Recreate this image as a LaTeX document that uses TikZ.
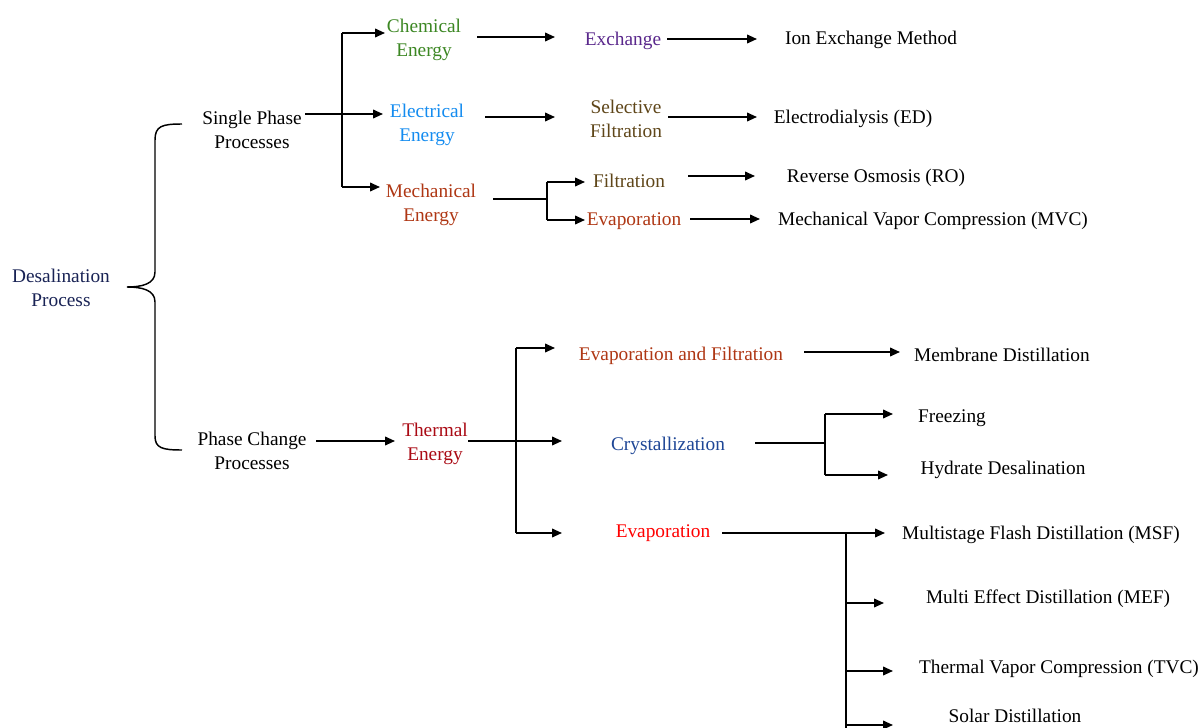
\documentclass[tikz,border=0pt]{standalone}
\usepackage{fontspec}
\setmainfont{Liberation Serif}
\usetikzlibrary{arrows.meta}

\definecolor{desalblue}{RGB}{25,35,85}
\definecolor{chemgreen}{RGB}{60,135,35}
\definecolor{elecblue}{RGB}{20,140,240}
\definecolor{mechbrown}{RGB}{175,55,20}
\definecolor{exchpurple}{RGB}{90,40,140}
\definecolor{filtbrown}{RGB}{95,70,25}
\definecolor{thermred}{RGB}{170,10,20}
\definecolor{crystblue}{RGB}{30,70,150}
\definecolor{evapred}{RGB}{255,0,0}

\tikzset{
    txt/.style={inner sep=0pt, align=center, yshift=-1.8pt,
        font=\fontsize{14.5}{18}\selectfont},
    link/.style={line width=1.3pt},
    arr/.style={link, -{Triangle[length=7.5pt,width=6.5pt]}}
}

\begin{document}
\begin{tikzpicture}[x=0.75pt,y=-0.75pt]

        \clip (0,0) rectangle (1204,728);
        \fill[white] (0,0) rectangle (1204,728);

        % texts
        \node[txt, desalblue] (desal) at (61,285) {Desalination\\Process};
        \node[txt] (single) at (252,127) {Single Phase\\Processes};
        \node[txt] (change) at (252,448) {Phase Change\\Processes};
        \node[txt, chemgreen] (chem) at (424,37) {Chemical\\Energy};
        \node[txt, elecblue] (elec) at (427,122) {Electrical\\Energy};
        \node[txt, mechbrown] (mech) at (431,202) {Mechanical\\Energy};
        \node[txt, exchpurple] (exch) at (623,38) {Exchange};
        \node[txt, filtbrown] (selfilt) at (626,116) {Selective\\Filtration};
        \node[txt, filtbrown] (filt) at (629,178) {Filtration};
        \node[txt, mechbrown] (mevap) at (634,219) {Evaporation};
        \node[txt] (ion) at (871,37) {Ion Exchange Method};
        \node[txt] (ed) at (853,116) {Electrodialysis (ED)};
        \node[txt] (ro) at (876,175) {Reverse Osmosis (RO)};
        \node[txt] (mvc) at (933,218) {Mechanical Vapor Compression (MVC)};
        \node[txt, thermred] (therm) at (435,441) {Thermal\\Energy};
        \node[txt, mechbrown] (evfilt) at (681,353) {Evaporation and Filtration};
        \node[txt, crystblue] (cryst) at (668,443) {Crystallization};
        \node[txt, evapred] (tevap) at (663,531) {Evaporation};
        \node[txt] (md) at (1002,352) {Membrane Distillation};
        \node[txt] (freeze) at (952,416) {Freezing};
        \node[txt] (hydrate) at (1003,467) {Hydrate Desalination};
        \node[txt] (msf) at (1041,532) {Multistage Flash Distillation (MSF)};
        \node[txt] (mef) at (1048,596) {Multi Effect Distillation (MEF)};
        \node[txt] (tvc) at (1059,666) {Thermal Vapor Compression (TVC)};
        \node[txt] (solar) at (1015,713) {Solar Distillation};

        % line ends and junctions
        \foreach \n/\x/\y in {
            spO/305/114, spJ/342/114, chemI/385/33, elecI/383/114, mechI/380/187,
            chemO/477/37, exchI/555/37, exchO/667/39, ionI/757/39,
            elecO/485/117, selI/555/117, selO/668/117, edI/757/117,
            mechO/493/199, mJ/547/199, filtI/585/182, mevI/585/220,
            filtO/688/176, roI/755/176, mevO/690/219, mvcI/760/219,
            pcO/316/441, thI/395/441,
            thO/468/441, tJ/516/441, efI/555/348, crI/562/441, evI/562/533,
            efO/804/352, mdI/900/352,
            crO/755/443, cJ/825/443, frI/893/414, hyI/888/475,
            evO/722/533, eJ/846/533, msfI/885/533, mefI/884/603,
            tvcI/893/671, solI/893/725, eEnd/846/740}
        \coordinate (\n) at (\x,\y);

        % brace
        \draw[line width=1.1pt] (182,124) .. controls (162,124) and (155,126) .. (155,140)
            -- (155,272) .. controls (155,284) and (142,287) .. (127,287)
            .. controls (142,287) and (155,290) .. (155,302)
            -- (155,436) .. controls (155,448) and (162,450) .. (182,450);

        % single phase
        \draw[link] (spO) -- (spJ);
        \draw[link] (spJ|-chemI) -- (spJ|-mechI);
        \foreach \t in {chemI,elecI,mechI}
            \draw[arr] (spJ|-\t) -- (\t);
        \draw[arr] (chemO) -- (exchI);
        \draw[arr] (exchO) -- (ionI);
        \draw[arr] (elecO) -- (selI);
        \draw[arr] (selO) -- (edI);
        \draw[link] (mechO) -- (mJ);
        \draw[link] (mJ|-filtI) -- (mJ|-mevI);
        \foreach \t in {filtI,mevI}
            \draw[arr] (mJ|-\t) -- (\t);
        \draw[arr] (filtO) -- (roI);
        \draw[arr] (mevO) -- (mvcI);

        % phase change
        \draw[arr] (pcO) -- (thI);
        \draw[link] (thO) -- (tJ);
        \draw[link] (tJ|-efI) -- (tJ|-evI);
        \foreach \t in {efI,crI,evI}
            \draw[arr] (tJ|-\t) -- (\t);
        \draw[arr] (efO) -- (mdI);
        \draw[link] (crO) -- (cJ);
        \draw[link] (cJ|-frI) -- (cJ|-hyI);
        \foreach \t in {frI,hyI}
            \draw[arr] (cJ|-\t) -- (\t);
        \draw[link] (evO) -- (eJ);
        \draw[link] (eJ) -- (eEnd);
        \foreach \t in {msfI,mefI,tvcI,solI}
            \draw[arr] (eJ|-\t) -- (\t);
    \end{tikzpicture}
\end{document}
